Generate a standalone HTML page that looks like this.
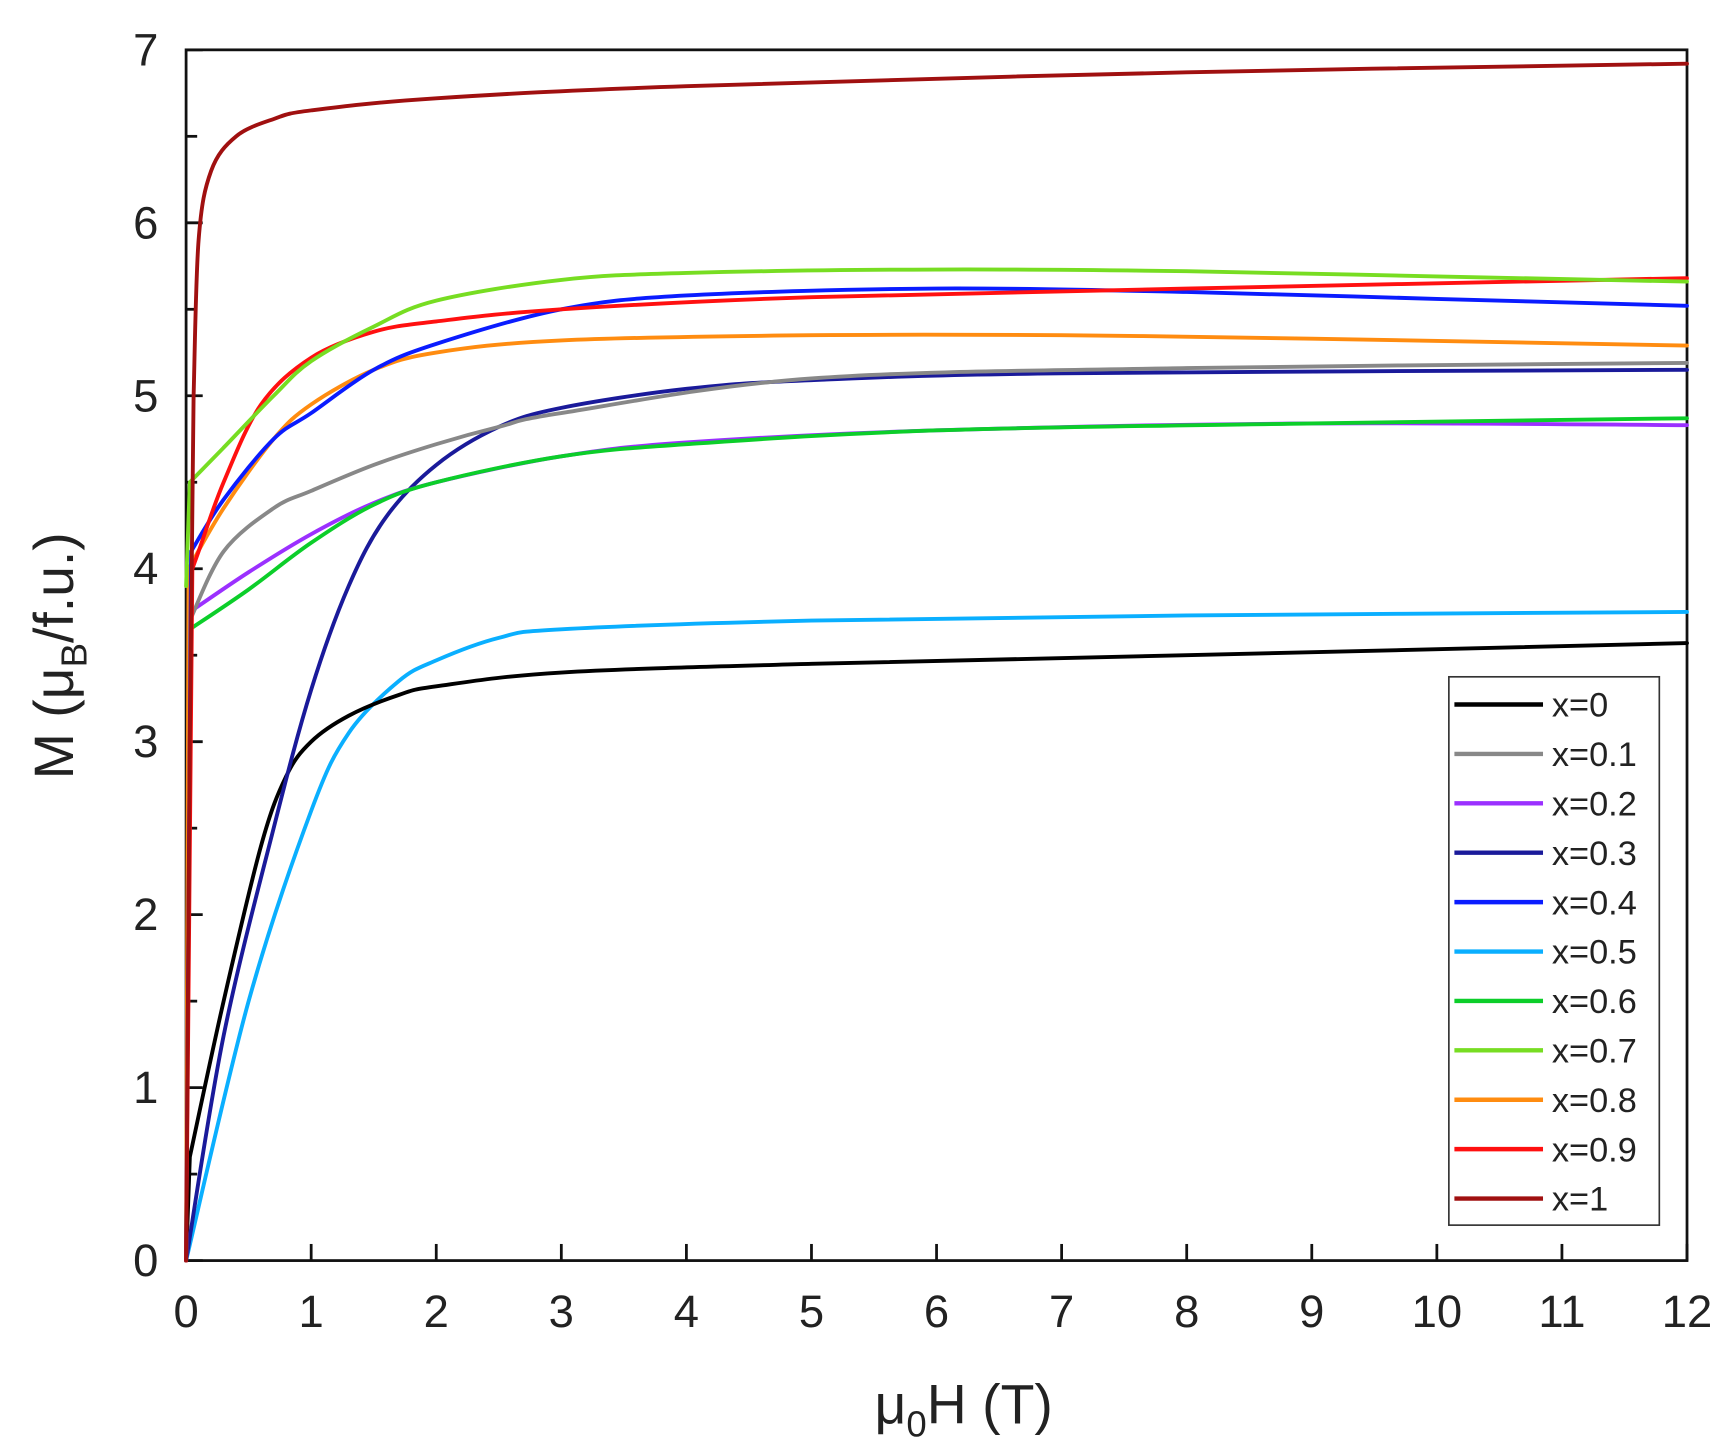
<!DOCTYPE html>
<html><head><meta charset="utf-8"><style>
html,body{margin:0;padding:0;background:#fff;}
svg{display:block;}
text{font-family:"Liberation Sans",sans-serif;fill:#222;}
</style></head><body>
<svg id="s" width="1728" height="1450" viewBox="0 0 1560 1309" preserveAspectRatio="none" xmlns="http://www.w3.org/2000/svg">
<rect x="168" y="45" width="1355" height="1093" fill="none" stroke="#111" stroke-width="2.5"/>
<g id="ticks" stroke="#111" stroke-width="2.5"></g>
<g id="labels" font-size="41"></g>
<g id="curves" fill="none" stroke-width="3.5" stroke-linejoin="round" stroke-linecap="round"></g>
<rect x="1308" y="611" width="190" height="495" fill="#fff" stroke="#333" stroke-width="1.5"/>
<g id="legend" font-size="31"></g>
<text x="870" y="1285" font-size="50" text-anchor="middle">μ<tspan font-size="33" dy="12">0</tspan><tspan dy="-12">H (T)</tspan></text>
<text transform="translate(66,592) rotate(-90)" font-size="50" text-anchor="middle">M (μ<tspan font-size="33" dy="12">B</tspan><tspan dy="-12">/f.u.)</tspan></text>
</svg>
<script>
const X=v=>168+v*1355/12, Y=v=>1138-v*1093/7, NS="http://www.w3.org/2000/svg";
function el(t,a,p,txt){const e=document.createElementNS(NS,t);for(const k in a)e.setAttribute(k,a[k]);if(txt!==undefined)e.textContent=txt;p.appendChild(e);return e;}
const tk=document.getElementById('ticks'),lb=document.getElementById('labels');
for(let i=0;i<=12;i++){el('line',{x1:X(i),x2:X(i),y1:1138,y2:1123},tk);el('text',{x:X(i),y:1198,'text-anchor':'middle'},lb,i);}
for(let i=0;i<=14;i++){const y=Y(i/2);el('line',{x1:168,x2:i%2?178:183,y1:y,y2:y},tk);if(i%2==0)el('text',{x:143,y:y+14,'text-anchor':'end'},lb,i/2);}
const S=[
["x=0","#000",[[0,0],[0.03,0.6],[0.3,1.5],[0.6,2.4],[0.8,2.8],[1,3.0],[1.3,3.15],[1.7,3.27],[2,3.32],[3,3.4],[5,3.45],[8,3.5],[12,3.57]],1],
["x=0.1","#888",[[0,0],[0.03,3.7],[0.3,4.1],[0.7,4.35],[1,4.45],[1.5,4.6],[2,4.72],[2.5,4.82],[3,4.9],[5,5.1],[8,5.16],[12,5.19]],1],
["x=0.2","#9b30ff",[[0,0],[0.03,3.75],[0.5,3.98],[1,4.2],[1.5,4.38],[2,4.5],[3,4.65],[4,4.73],[6,4.8],[9,4.84],[12,4.83]],1],
["x=0.3","#1a1a9a",[[0,0],[0.3,1.3],[0.7,2.5],[1,3.3],[1.3,3.9],[1.6,4.3],[2,4.6],[2.5,4.82],[3,4.93],[4,5.04],[5,5.09],[7,5.13],[12,5.15]],0],
["x=0.4","#0a1cff",[[0,0],[0.04,4.1],[0.3,4.4],[0.7,4.75],[1,4.9],[1.5,5.15],[2,5.3],[3,5.5],[4,5.58],[6,5.62],[8,5.6],[10,5.56],[12,5.52]],1],
["x=0.5","#0aafff",[[0,0],[0.5,1.5],[1,2.6],[1.3,3.05],[1.7,3.35],[2,3.47],[2.5,3.6],[3,3.65],[5,3.7],[8,3.73],[12,3.75]],0],
["x=0.6","#0cce2a",[[0,0],[0.03,3.65],[0.5,3.88],[1,4.15],[1.5,4.37],[2,4.5],[3,4.65],[4,4.72],[6,4.8],[9,4.84],[12,4.87]],1],
["x=0.7","#77dd22",[[0,3.9],[0.03,4.5],[0.3,4.7],[0.7,5.0],[1,5.2],[1.5,5.4],[2,5.55],[3,5.67],[4,5.71],[6,5.73],[8,5.72],[10,5.69],[12,5.66]],1],
["x=0.8","#ff8c10",[[0,0],[0.02,4.0],[0.3,4.35],[0.7,4.75],[1,4.95],[1.5,5.15],[2,5.25],[3,5.32],[5,5.35],[7,5.35],[9,5.33],[12,5.29]],1],
["x=0.9","#ff1010",[[0,0],[0.05,4.0],[0.1,4.1],[0.3,4.5],[0.6,4.95],[1,5.22],[1.5,5.37],[2,5.43],[3,5.5],[5,5.57],[8,5.62],[12,5.68]],1],
["x=1","#a01010",[[0,0],[0.03,3.0],[0.06,5.0],[0.1,5.9],[0.2,6.3],[0.4,6.5],[0.7,6.6],[1,6.65],[2,6.72],[4,6.79],[8,6.87],[12,6.92]],2]
];
function path(p,lin){p=p.map(q=>[X(q[0]),Y(q[1])]);let d="M"+p[0];
for(let i=0;i<lin;i++)d+="L"+p[i+1];
for(let i=lin;i<p.length-1;i++){const a=p[Math.max(lin,i-1)],b=p[i],c=p[i+1],e=p[Math.min(p.length-1,i+2)];
const c1=[b[0]+(c[0]-a[0])/6,b[1]+(c[1]-a[1])/6],c2=[c[0]-(e[0]-b[0])/6,c[1]-(e[1]-b[1])/6];
d+="C"+c1+" "+c2+" "+c;}return d;}
const cv=document.getElementById('curves'),lg=document.getElementById('legend');
const order=[5,0,3,2,6,1,8,4,9,7,10];
order.forEach(i=>el('path',{d:path(S[i][2],S[i][3]),stroke:S[i][1]},cv));
S.forEach((s,i)=>{const y=636+i*44.6;el('line',{x1:1313,x2:1393,y1:y,y2:y,stroke:s[1],'stroke-width':4},lg);el('text',{x:1401,y:y+11},lg,s[0]);});
</script>
</body></html>
